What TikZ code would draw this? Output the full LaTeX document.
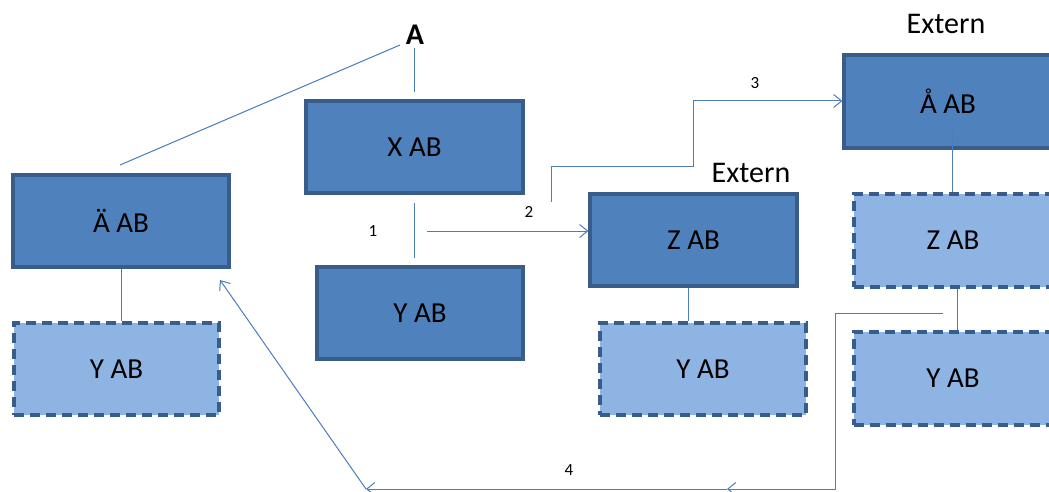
\documentclass[tikz,border=0pt]{standalone}
\usepackage{fontspec}
\setmainfont{Carlito}
\usetikzlibrary{arrows.meta}
\definecolor{boxfill}{HTML}{4F81BD}
\definecolor{boxedge}{HTML}{385D8A}
\definecolor{lightfill}{HTML}{8EB4E3}
\definecolor{wire}{HTML}{4A7EBB}
\tikzset{
  solidbox/.style={draw=boxedge, line width=3.2pt, fill=boxfill, inner sep=0pt, font=\fontsize{29}{32}\selectfont},
  dashbox/.style={draw=boxedge, line width=3.2pt, fill=lightfill, dash pattern=on 10pt off 6pt, inner sep=0pt, font=\fontsize{29}{32}\selectfont},
  wireline/.style={draw=wire, line width=1pt},
  wirearrow/.style={wireline, -{Straight Barb[length=8pt, width=13pt, line width=1pt]}},
  numlabel/.style={font=\fontsize{17}{19}\selectfont},
  extlabel/.style={font=\fontsize{30}{33}\selectfont}
}
\begin{document}
\begin{tikzpicture}[x=1pt, y=-1pt]
\useasboundingbox (0,0) rectangle (1049,492);
\clip (0,0) rectangle (1049,492);

% companies
\node[solidbox, minimum width=216pt, minimum height=92pt] (ae) at (121,221) {Ä AB};
\node[dashbox, minimum width=205pt, minimum height=92pt] (yl) at (116.5,369) {Y AB};
\node[solidbox, minimum width=217pt, minimum height=92pt] (x) at (414.5,147) {X AB};
\node[solidbox, minimum width=206pt, minimum height=92pt] (ym) at (420,313) {Y AB};
\node[solidbox, minimum width=207pt, minimum height=92pt] (z) at (693.5,240) {Z AB};
\node[dashbox, minimum width=206pt, minimum height=92pt] (yz) at (703,369) {Y AB};
\node[solidbox, minimum width=208pt, minimum height=93pt] (aa) at (948,101.5) {Å AB};
\node[dashbox, minimum width=198pt, minimum height=93pt] (zr) at (953,240.5) {Z AB};
\node[dashbox, minimum width=198pt, minimum height=93pt] (yr) at (953,378.5) {Y AB};

% captions
\node[font=\bfseries\fontsize{30}{33}\selectfont] (a) at (415,35) {A};
\node[extlabel] (ext1) at (946,24) {Extern};
\node[extlabel] (ext2) at (751,173) {Extern};
\node[numlabel] (n1) at (373,231) {1};
\node[numlabel] (n2) at (529,212) {2};
\node[numlabel] (n3) at (755,83) {3};
\node[numlabel] (n4) at (569,470) {4};

% anchor points for the free ends
\coordinate (aleft) at (400,45);
\coordinate (aeTop) at (120,165);
\coordinate (abot) at (414,48);
\coordinate (xTop) at (414,92);
\coordinate (xBot) at (414,203);
\coordinate (ymTop) at (414,258);
\coordinate (s2) at (427,231);
\coordinate (s3) at (551,202);
\coordinate (s4) at (943,313);
\coordinate (b4) at (835,489);
\coordinate (m4) at (727,489);
\coordinate (l4) at (366,489);

% ownership lines
\draw[wireline] (aeTop) -- (aleft);
\draw[wireline] (abot) -- (xTop);
\draw[wireline] (xBot) -- (ymTop);
\draw[wireline] (ae.south -| 121,0) -- (yl.north -| 121,0);
\draw[wireline] (z.south -| 688,0) -- (yz.north -| 688,0);
\draw[wireline] (952,130) -- (zr.north -| 952,0);
\draw[wireline] (zr.south -| 957,0) -- (yr.north -| 957,0);

% transfers
\draw[wirearrow] (s2) -- (z.west |- s2);
\draw[wirearrow] (s3) -- (551,166) -- (693,166) -- (693,101) -- (aa.west |- 0,101);
\draw[wirearrow] (s4) -- (835,313) -- (b4) -- (m4);
\draw[wirearrow] (m4) -- (l4);
\draw[wirearrow] (l4) -- (220,280);
\end{tikzpicture}
\end{document}
